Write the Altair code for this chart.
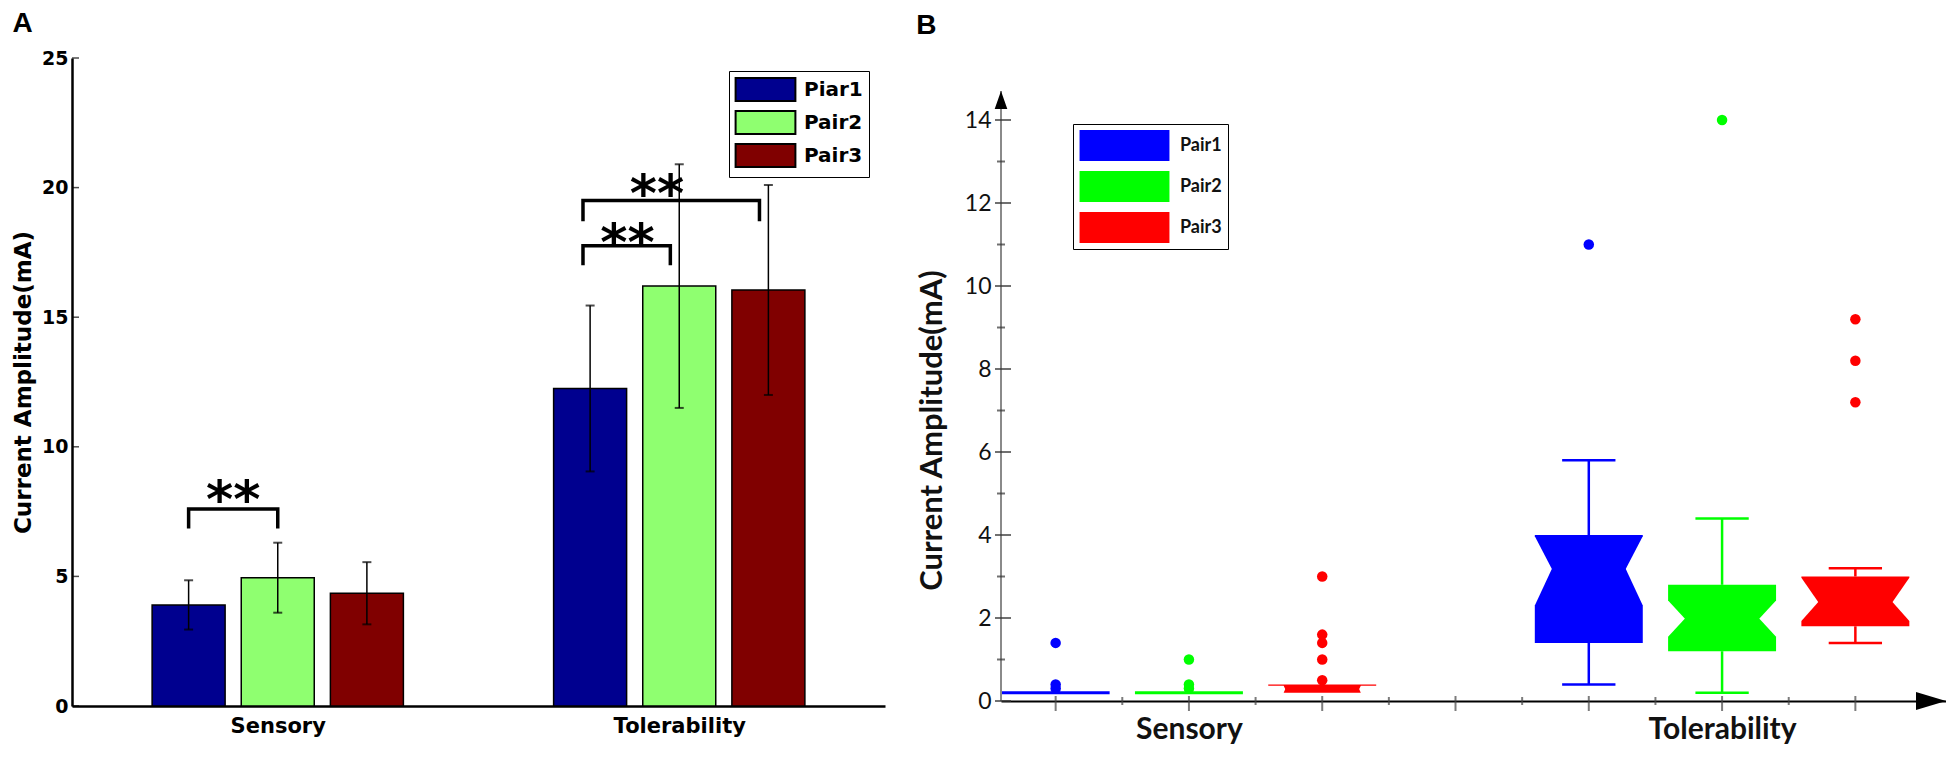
import altair as alt
import pandas as pd

# ---------------- Panel A data ----------------
A_groups = ["Sensory", "Tolerability"]
A_pairs = ["Piar1", "Pair2", "Pair3"]
A_colors = ["#00008F", "#8FFF70", "#800000"]
A_mean_sensory = [3.9, 4.95, 4.35]
A_mean_toler = [12.25, 16.2, 16.05]
A_err_sensory = [0.95, 1.35, 1.2]
A_err_toler = [3.2, 4.7, 4.05]
A_yticks = [0, 5, 10, 15, 20, 25]

# significance brackets (group index, from pair, to pair, leg bottom, bracket top, star level)
BR_group = [1, 2, 2]
BR_from = [0, -0.08, -0.08]
BR_to = [1, 0.9, 1.9]
BR_leg = [6.85, 17.0, 18.7]
BR_top = [7.6, 17.76, 19.5]
BR_star = [8.5, 18.4, 20.3]
BR_star_p = [0.5, 0.42, 0.75]

# ---------------- Panel B data ----------------
B_pairs = ["Pair1", "Pair2", "Pair3"]
B_colors = ["#0000FF", "#00FF00", "#FF0000"]
B_pos = [1, 2, 3, 5, 6, 7]
B_pair_idx = [0, 1, 2, 0, 1, 2]
B_q1 = [0.2, 0.2, 0.2, 1.4, 1.2, 1.8]
B_med = [0.2, 0.2, 0.3, 3.2, 2.0, 2.4]
B_q3 = [0.2, 0.2, 0.4, 4.0, 2.8, 3.0]
B_notch_lo = [0.2, 0.2, -0.6, 2.3, 1.55, 1.93]
B_notch_hi = [0.2, 0.2, 1.2, 4.0, 2.45, 3.0]
B_wlo = [0.2, 0.2, 0.2, 0.4, 0.2, 1.4]
B_whi = [0.2, 0.2, 0.4, 5.8, 4.4, 3.2]
B_outliers = [[0.3, 0.4, 1.4], [0.3, 0.4, 1.0], [0.5, 1.0, 1.4, 1.6, 3.0],
              [11.0], [14.0], [7.2, 8.2, 9.2]]
B_yticks_major = [0, 2, 4, 6, 8, 10, 12, 14]
B_yticks_minor = [1, 3, 5, 7, 9, 11, 13]
B_xticks_major = [1, 2, 3, 4, 5, 6, 7]
B_xticks_minor = [1.5, 2.5, 3.5, 4.5, 5.5, 6.5]
B_xlabel_pos = [2, 6]
B_xlabel_txt = ["Sensory", "Tolerability"]
B_yaxis_extent = [0, 14.7]

# ---------------- styling constants ----------------
FA = "DejaVu Sans, Verdana, sans-serif"
FT = "Liberation Sans, Arial, sans-serif"
FB = "Lato, Open Sans, sans-serif"
W_A, H_A = 813, 648
W_B, H_B = 945, 643
STEP = 0.222
HW = 0.405
INSET = 0.13
CAP = 0.2
EPS = 0.03

# ---------------- Panel A ----------------
rows = []
for gi, (means, errs) in enumerate([(A_mean_sensory, A_err_sensory), (A_mean_toler, A_err_toler)]):
    for pi in range(3):
        rows.append({"g": gi + 1, "p": pi, "pair": A_pairs[pi], "mean": means[pi], "err": errs[pi]})
dfA = pd.DataFrame(rows)

xA = alt.Scale(domain=[0.5, 2.5], nice=False, zero=False)
yA = alt.Scale(domain=[0, 25], nice=False)

baseA = alt.Chart(dfA).transform_calculate(
    x=f"datum.g + (datum.p - 1) * {STEP}",
    lo="datum.mean - datum.err",
    hi="datum.mean + datum.err",
)

bars = baseA.mark_bar(size=73, stroke="black", strokeWidth=1.5).encode(
    x=alt.X("x:Q", scale=xA, title=None,
            axis=alt.Axis(values=[1, 2], labelExpr="datum.value == 1 ? 'Sensory' : 'Tolerability'",
                          ticks=False, grid=False, domainColor="black", domainWidth=2.5,
                          labelFont=FA, labelFontSize=21, labelFontWeight="bold", labelColor="black",
                          labelPadding=9)),
    y=alt.Y("mean:Q", scale=yA, title="Current Amplitude(mA)",
            axis=alt.Axis(values=A_yticks, ticks=False, grid=False, domainColor="black", domainWidth=2.5,
                          labelFont=FA, labelFontSize=19, labelFontWeight="bold", labelColor="black",
                          labelPadding=4, titleFont=FA, titleFontSize=23, titleFontWeight="bold",
                          titleColor="black", titlePadding=6)),
    color=alt.Color("pair:N", scale=alt.Scale(domain=A_pairs, range=A_colors),
                    legend=alt.Legend(orient="none", legendX=657, legendY=13, title=None,
                                      symbolType="M-2.6,-1L2.6,-1L2.6,1L-2.6,1Z", symbolSize=529,
                                      symbolStrokeColor="black", symbolStrokeWidth=2,
                                      symbolOffset=18, labelOffset=26, rowPadding=2,
                                      padding=6, strokeColor="black", fillColor="white",
                                      labelFont=FA, labelFontSize=20, labelFontWeight="bold",
                                      labelColor="black")),
)

err_rule = baseA.mark_rule(color="black", strokeWidth=1.5).encode(
    x=alt.X("x:Q", scale=xA), y=alt.Y("lo:Q", scale=yA), y2="hi:Q")
cap_lo = baseA.mark_tick(orient="horizontal", size=9, thickness=2, color="black").encode(
    x=alt.X("x:Q", scale=xA), y=alt.Y("lo:Q", scale=yA))
cap_hi = baseA.mark_tick(orient="horizontal", size=9, thickness=2, color="black").encode(
    x=alt.X("x:Q", scale=xA), y=alt.Y("hi:Q", scale=yA))

br_rows = []
for i in range(len(BR_group)):
    pts = [(BR_from[i], BR_leg[i]), (BR_from[i], BR_top[i]), (BR_to[i], BR_top[i]), (BR_to[i], BR_leg[i])]
    for k, (p, yv) in enumerate(pts):
        br_rows.append({"id": i, "k": k, "g": BR_group[i], "p": p, "y": yv})
dfBr = pd.DataFrame(br_rows)
brackets = alt.Chart(dfBr).transform_calculate(
    x=f"datum.g + (datum.p - 1) * {STEP}"
).mark_line(color="black", strokeWidth=3.5, strokeCap="butt", strokeJoin="miter").encode(
    x=alt.X("x:Q", scale=xA), y=alt.Y("y:Q", scale=yA), detail="id:N", order="k:Q")

dfStar = pd.DataFrame({"g": BR_group, "pm": BR_star_p, "y": BR_star})
stars = alt.Chart(dfStar).transform_calculate(
    x=f"datum.g + (datum.pm - 1) * {STEP}"
).mark_text(text="**", font=FA, fontSize=52, fontWeight="bold", color="black",
            baseline="alphabetic", dy=31).encode(
    x=alt.X("x:Q", scale=xA), y=alt.Y("y:Q", scale=yA))

ticksA = alt.Chart(pd.DataFrame({"v": A_yticks})).mark_tick(
    orient="horizontal", size=7, thickness=1.5, color="black").encode(
    y=alt.Y("v:Q", scale=yA), x=alt.value(3.5))

panelA = alt.layer(bars, err_rule, cap_lo, cap_hi, brackets, stars, ticksA).properties(
    width=W_A, height=H_A,
    title=alt.TitleParams(text="A", anchor="start", frame="bounds", fontSize=28, font=FT,
                          fontWeight="bold", color="black", offset=11))

# ---------------- Panel B ----------------
dfBox = pd.DataFrame({"pos": B_pos, "pair": [B_pairs[i] for i in B_pair_idx],
                      "q1": B_q1, "med": B_med, "q3": B_q3, "wlo": B_wlo, "whi": B_whi})

# notched box outlines, built from the summary statistics (upper and lower halves)
poly_rows = []
part = 0
for b in range(len(B_pos)):
    q1, med, q3 = B_q1[b], B_med[b], B_q3[b]
    if q3 <= q1:
        continue
    nlo, nhi = B_notch_lo[b], B_notch_hi[b]
    L, R = B_pos[b] - HW, B_pos[b] + HW
    pair = B_pairs[B_pair_idx[b]]
    ds = [0.0]
    if nhi > q3 and nhi > med:
        ds.append(INSET * (nhi - q3) / (nhi - med))
    ds.append(INSET)

    def up_edge(d):
        if nhi <= med:
            return med
        return min(q3, nhi - (nhi - med) * min(d, INSET) / INSET)
    pts = [(L + d, up_edge(d)) for d in ds] + [(R - d, up_edge(d)) for d in reversed(ds)]
    for x, e in pts:
        poly_rows.append({"part": part, "pair": pair, "x": x, "top": q3, "bot": max(q1, e - EPS)})
    part += 1
    ds = [0.0]
    if nlo < q1 and nlo < med:
        ds.append(INSET * (q1 - nlo) / (med - nlo))
    ds.append(INSET)

    def lo_edge(d):
        if nlo >= med:
            return med
        return max(q1, nlo + (med - nlo) * min(d, INSET) / INSET)
    pts = [(L + d, lo_edge(d)) for d in ds] + [(R - d, lo_edge(d)) for d in reversed(ds)]
    for x, e in pts:
        poly_rows.append({"part": part, "pair": pair, "x": x, "top": e, "bot": q1})
    part += 1
dfPoly = pd.DataFrame(poly_rows)

out_rows = []
for b, outs in enumerate(B_outliers):
    for v in outs:
        out_rows.append({"pos": B_pos[b], "pair": B_pairs[B_pair_idx[b]], "v": v})
dfOut = pd.DataFrame(out_rows)

xB = alt.Scale(domain=[0.59, 7.68], nice=False, zero=False)
yB = alt.Scale(domain=[0, H_B / 41.5], nice=False)
cB = alt.Scale(domain=B_pairs, range=B_colors)

boxes = alt.Chart(dfPoly).mark_area(opacity=1).encode(
    y=alt.Y("top:Q", scale=yB, title="Current Amplitude(mA)",
            axis=alt.Axis(values=B_yticks_major, ticks=False, grid=False, domain=False,
                          labelFont=FB, labelFontSize=23, labelColor="#111",
                          labelPadding=10, titleFont=FB, titleFontSize=31, titleFontWeight="bold",
                          titleColor="#111", titlePadding=16, titleY=372)),
    y2="bot:Q",
    x=alt.X("x:Q", scale=xB, title=None,
            axis=alt.Axis(values=B_xlabel_pos,
                          labelExpr=f"datum.value == {B_xlabel_pos[0]} ? '{B_xlabel_txt[0]}' : '{B_xlabel_txt[1]}'",
                          ticks=False, grid=False, domainColor="black", domainWidth=2,
                          labelFont=FB, labelFontSize=30, labelFontWeight="bold", labelColor="#111",
                          labelPadding=13)),
    color=alt.Color("pair:N", scale=cB,
                    legend=alt.Legend(orient="none", legendX=72, legendY=66, title=None,
                                      symbolType="M-2.9,-1L2.9,-1L2.9,1L-2.9,1Z", symbolSize=961,
                                      symbolStrokeWidth=0, symbolOffset=30, labelOffset=40,
                                      rowPadding=10, padding=6, strokeColor="black",
                                      fillColor="white", labelFont=FB, labelFontSize=18,
                                      labelFontWeight="bold", labelColor="#111")),
    detail="part:N")

baseBox = alt.Chart(dfBox).transform_calculate(
    cl=f"datum.pos - {CAP}", cr=f"datum.pos + {CAP}",
    bl=f"datum.pos - {HW}", br=f"datum.pos + {HW}")

wh_hi = baseBox.transform_filter("datum.whi > datum.q3").mark_rule(strokeWidth=2.5).encode(
    x=alt.X("pos:Q", scale=xB), y=alt.Y("q3:Q", scale=yB), y2="whi:Q",
    color=alt.Color("pair:N", scale=cB, legend=None))
wh_lo = baseBox.transform_filter("datum.wlo < datum.q1").mark_rule(strokeWidth=2.5).encode(
    x=alt.X("pos:Q", scale=xB), y=alt.Y("wlo:Q", scale=yB), y2="q1:Q",
    color=alt.Color("pair:N", scale=cB, legend=None))
cap_hiB = baseBox.transform_filter("datum.whi > datum.q3").mark_rule(strokeWidth=2.5).encode(
    x=alt.X("cl:Q", scale=xB), x2="cr:Q", y=alt.Y("whi:Q", scale=yB),
    color=alt.Color("pair:N", scale=cB, legend=None))
cap_loB = baseBox.transform_filter("datum.wlo < datum.q1").mark_rule(strokeWidth=2.5).encode(
    x=alt.X("cl:Q", scale=xB), x2="cr:Q", y=alt.Y("wlo:Q", scale=yB),
    color=alt.Color("pair:N", scale=cB, legend=None))
flat = baseBox.transform_filter("datum.q3 <= datum.q1").mark_rule(strokeWidth=3).encode(
    x=alt.X("bl:Q", scale=xB), x2="br:Q", y=alt.Y("med:Q", scale=yB),
    color=alt.Color("pair:N", scale=cB, legend=None))

outl = alt.Chart(dfOut).mark_point(filled=True, size=110, opacity=1, shape="circle").encode(
    x=alt.X("pos:Q", scale=xB), y=alt.Y("v:Q", scale=yB),
    color=alt.Color("pair:N", scale=cB, legend=None))

yaxis_line = alt.Chart(pd.DataFrame({"lo": [B_yaxis_extent[0]], "hi": [B_yaxis_extent[1]]})).mark_rule(
    color="#8a8a8a", strokeWidth=2).encode(
    x=alt.value(0), y=alt.Y("lo:Q", scale=yB), y2="hi:Q")
ytB_major = alt.Chart(pd.DataFrame({"v": B_yticks_major})).mark_tick(
    orient="horizontal", size=16, thickness=2, color="#333").encode(
    y=alt.Y("v:Q", scale=yB), x=alt.value(2))
ytB_minor = alt.Chart(pd.DataFrame({"v": B_yticks_minor})).mark_tick(
    orient="horizontal", size=8, thickness=2, color="#333").encode(
    y=alt.Y("v:Q", scale=yB), x=alt.value(0))
xtB_major = alt.Chart(pd.DataFrame({"v": B_xticks_major})).mark_tick(
    orient="vertical", size=15, thickness=2, color="#444").encode(
    x=alt.X("v:Q", scale=xB), y=alt.value(H_B + 2.5))
xtB_minor = alt.Chart(pd.DataFrame({"v": B_xticks_minor})).mark_tick(
    orient="vertical", size=8, thickness=2, color="#444").encode(
    x=alt.X("v:Q", scale=xB), y=alt.value(H_B))

arrow_y = alt.Chart(pd.DataFrame({"v": [B_yaxis_extent[1]]})).mark_point(
    shape="M0,0L0.7,2L-0.7,2Z", size=324, filled=True, color="black", opacity=1).encode(
    x=alt.value(0), y=alt.Y("v:Q", scale=yB))
arrow_x = alt.Chart(pd.DataFrame({"a": [0]})).mark_point(
    shape="M0,0L-2,-0.6L-2,0.6Z", size=900, filled=True, color="black", opacity=1).encode(
    x=alt.value(W_B), y=alt.value(H_B))

panelB = alt.layer(boxes, wh_hi, wh_lo, cap_hiB, cap_loB, flat, outl, yaxis_line,
                   ytB_major, ytB_minor, xtB_major, xtB_minor, arrow_y, arrow_x).properties(
    width=W_B, height=H_B,
    title=alt.TitleParams(text="B", anchor="start", frame="bounds", fontSize=28, font=FT,
                          fontWeight="bold", color="black", offset=18))

chart = alt.hconcat(panelA, panelB, spacing=31).resolve_scale(
    color="independent", x="independent", y="independent"
).properties(padding={"left": 4, "top": 2, "right": 0, "bottom": 0}).configure_view(stroke=None)

chart.save("out.html", embed_options={"renderer": "svg", "actions": False})
